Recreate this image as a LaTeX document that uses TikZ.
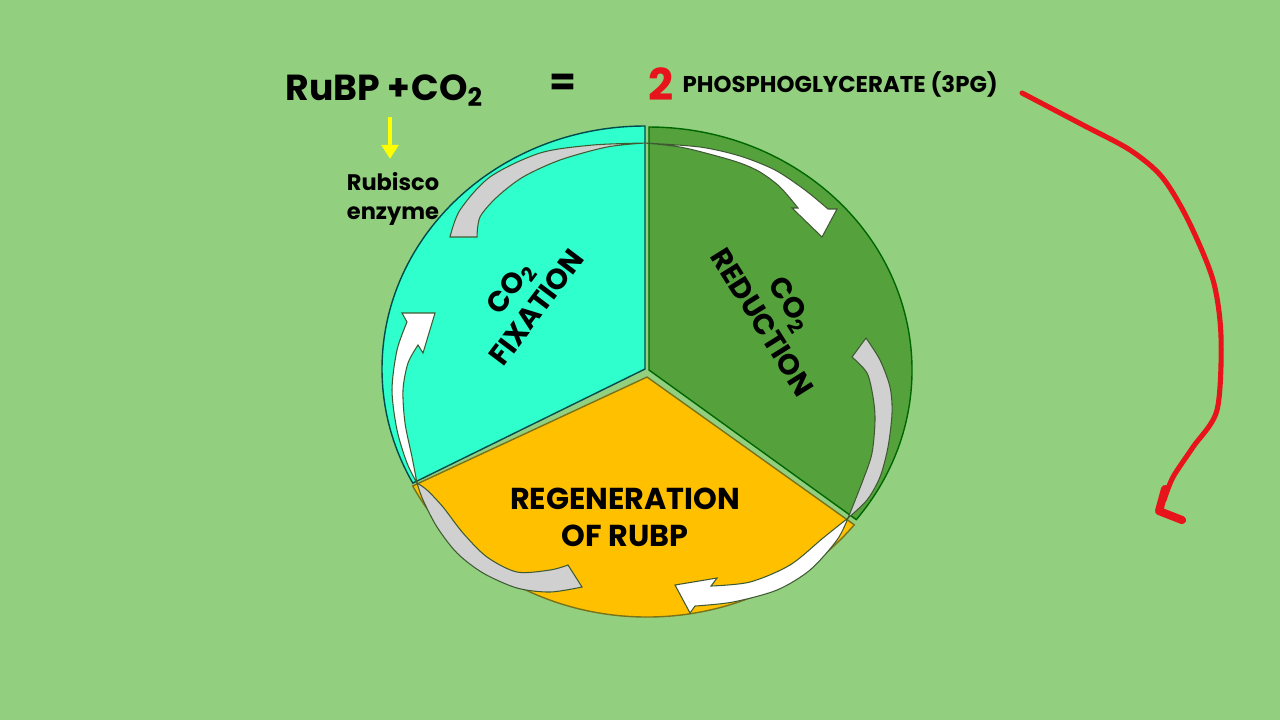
\documentclass[tikz,border=0pt]{standalone}
\usepackage{fontspec}
\setmainfont{Poppins}
\usepackage{tikz}
\usetikzlibrary{arrows.meta}
\definecolor{bggreen}{HTML}{92D07F}
\definecolor{fixcyan}{HTML}{2EFFCC}
\definecolor{redgreen}{HTML}{55A23D}
\definecolor{reggold}{HTML}{FFC000}
\definecolor{backgray}{HTML}{D0D0D0}
\definecolor{penred}{HTML}{E8141B}
\definecolor{arrowline}{HTML}{3F5A32}
\definecolor{enzyellow}{HTML}{FFFF00}

\tikzset{
  slice/.style={line width=0.4pt},
  arrowback/.style={fill=backgray, draw=arrowline, line width=0.3pt},
  arrowfront/.style={fill=white, draw=arrowline, line width=0.3pt},
  cyctext/.style={inner sep=0pt, text=black},
  enzarrow/.style={enzyellow, line width=1.4pt, -{Triangle[width=4.8pt,length=4pt]}},
  redpen/.style={penred, line width=1.45pt, line cap=round, line join=round}
}

\begin{document}
\begin{tikzpicture}[x=0.01cm, y=-0.01cm]

\fill[bggreen] (0,0) rectangle (1280,720);
\useasboundingbox (0,0) rectangle (1280,720);

% the three slices
\filldraw[slice, fill=fixcyan, draw=teal!60!black] (645,369) -- ++(-90:263 and 243)
  arc[start angle=-90, end angle=-208, x radius=263, y radius=243] -- cycle;
\filldraw[slice, fill=redgreen, draw=green!40!black] (649,370) -- ++(38:263 and 243)
  arc[start angle=38, end angle=-90, x radius=263, y radius=243] -- cycle;
\filldraw[slice, fill=reggold, draw=olive!80!black] (647,377) -- ++(153:263 and 240)
  arc[start angle=153, end angle=38, x radius=263, y radius=240] -- cycle;

% curved arrows: top
\filldraw[arrowback] plot[smooth] coordinates {(450,237) (460,210) (490,177) (540,153) (593,145) (645,143)}
  -- plot[smooth] coordinates {(645,143) (607,147) (560,160) (523,177) (497,197) (480,217) (477,237)} -- cycle;
\filldraw[arrowfront] plot[smooth] coordinates {(645,143) (700,147) (740,156) (775,170) (805,190) (828,209)}
  -- (837,209) -- (822,237) -- (792,208) -- (798,208)
  -- plot[smooth] coordinates {(798,208) (780,187) (760,172) (740,163) (713,155) (680,147) (645,143)} -- cycle;

% right and bottom
\filldraw[arrowback] (852,357) -- (866,338)
  -- plot[smooth] coordinates {(866,338) (880,360) (890,387) (892,413) (888,447) (880,477) (867,500) (848,518)}
  -- plot[smooth] coordinates {(848,518) (863,480) (872,453) (875,420) (873,397) (867,373) (852,357)} -- cycle;
\filldraw[arrowfront] plot[smooth] coordinates {(848,518) (837,540) (810,570) (777,590) (733,602) (695,606)}
  -- (690,613) -- (675,585) -- (717,578) -- (711,586)
  -- plot[smooth] coordinates {(711,586) (750,582) (790,565) (823,538) (848,518)} -- cycle;

% left
\filldraw[arrowback] plot[smooth] coordinates {(417,483) (423,500) (437,527) (457,553) (483,573) (517,588) (550,592) (582,587)}
  -- (568,565)
  -- plot[smooth] coordinates {(568,565) (550,570) (517,572) (487,557) (463,533) (443,507) (427,490) (417,483)} -- cycle;
\filldraw[arrowfront] plot[smooth] coordinates {(417,483) (407,463) (397,430) (392,390) (397,350) (407,322)}
  -- (402,313) -- (435,313) -- (423,353) -- (418,345)
  -- plot[smooth] coordinates {(418,345) (408,363) (403,390) (405,423) (412,457) (417,483)} -- cycle;

% slice labels
\node[cyctext, rotate=53, align=center, font=\fontsize{8.2}{9.6}\selectfont\bfseries] (fix) at (523,297) {CO\textsubscript{2}\\FIXATION};
\node[cyctext, rotate=-58, align=center, font=\fontsize{8.2}{9.6}\selectfont\bfseries] (reduc) at (777,313) {CO\textsubscript{2}\\REDUCTION};
\node[cyctext, align=center, font=\fontsize{8.6}{10.5}\selectfont\bfseries] (regen) at (625,517) {REGENERATION\\OF RUBP};

% equation on top
\node[cyctext, anchor=base west, font=\fontsize{10.3}{13}\selectfont\bfseries] (react) at (285,100) {RuBP\hspace{0.2em}+\hspace{0.04em}CO\textsubscript{2}};
\node[cyctext, font=\fontsize{11}{13}\selectfont\bfseries] (eq) at (563,85) {=};
\node[cyctext, anchor=base west, text=penred, font=\fontsize{12.5}{14}\selectfont\bfseries] (two) at (648,100) {2};
\node[cyctext, anchor=base west, font=\fontsize{6.5}{8}\selectfont\bfseries] (pgl) at (682,92) {PHOSPHOGLYCERATE (3PG)};

\node[cyctext, align=center, font=\fontsize{6.4}{8}\selectfont\bfseries] (rubisco) at (393,199) {Rubisco\\enzyme};
\coordinate (enzsrc) at (390,117);
\draw[enzarrow, shorten >=3.8pt] (enzsrc) -- (enzsrc |- rubisco.north);

% red scribble
\draw[redpen] plot[smooth] coordinates {(1022,93) (1083,125) (1130,150) (1162,177) (1188,220) (1213,280) (1221,337) (1217,410) (1193,447) (1173,477) (1164,500)};
\draw[redpen, line width=2.3pt] (1165,489) -- (1159,511) -- (1182,520);

\end{tikzpicture}
\end{document}
